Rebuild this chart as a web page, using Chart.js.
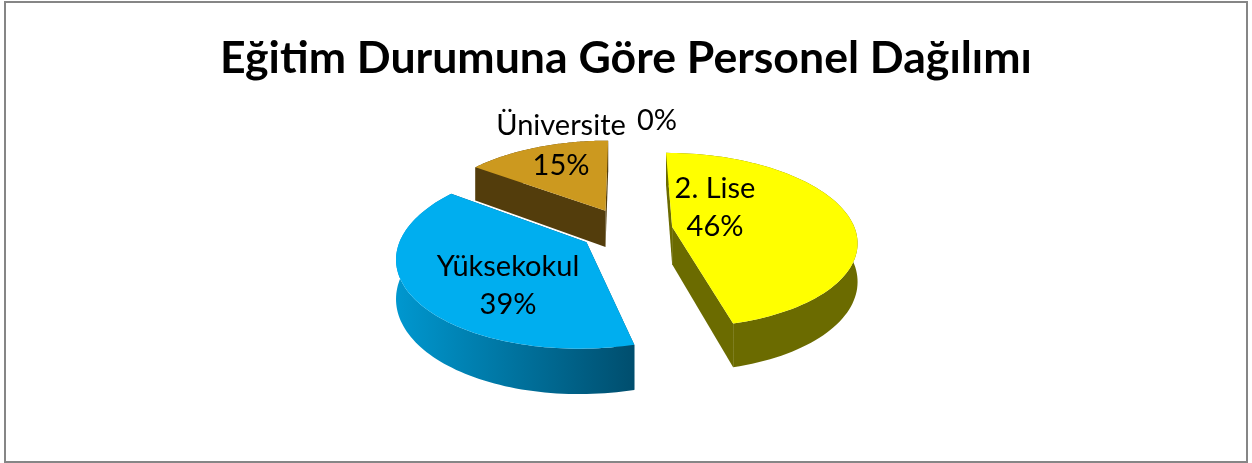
<!DOCTYPE html>
<html>
<head>
<meta charset="utf-8">
<title>Eğitim Durumuna Göre Personel Dağılımı</title>
<script src="https://cdn.jsdelivr.net/npm/chart.js@4"></script>
<style>
  html, body { margin: 0; padding: 0; background: #fff; }
  canvas { display: block; }
</style>
</head>
<body>
<canvas id="chart" width="1252" height="463"></canvas>
<script>
const chartTitle = "Eğitim Durumuna Göre Personel Dağılımı";
const categories = ["2. Lise", "Yüksekokul", "Üniversite", ""];
const percents = [46, 39, 15, 0];

const topColors = ["#FFFF00", "#00AEEF", "#CC991F", "#9BBB59"];
// left and right colour of the outer wall
const wallColors = [["#6B6B00", "#6B6B00"], ["#0098D0", "#004E6E"], ["#533D0C", "#533D0C"], ["#000", "#000"]];
const sliceOrder = [2, 0, 1]; // back to front

// label centres, [x, name y, percent y]
const labelSpots = [[715, 189, 227], [508, 267, 305], [561, 126, 166], [657, 121, 121]];

// fake 3d camera
const tilt = 0.47;
const camDist = 1200;
const depth = 37.5;
const pieRadius = 183;
const explode = 46.7;

function project(arc, X, Y, z) {
  const f = camDist / (camDist - Y);
  return { x: arc.x + X * f, y: arc.y + (Y * tilt + z) * f };
}

function poly(ctx, pts, fill) {
  ctx.beginPath();
  pts.forEach((p, i) => i ? ctx.lineTo(p.x, p.y) : ctx.moveTo(p.x, p.y));
  ctx.closePath();
  ctx.fillStyle = fill;
  ctx.fill();
}

function drawSlice(ctx, arc, index) {
  const start = arc.startAngle, end = arc.endAngle;
  if (end - start < 0.001) return;
  const mid = (start + end) / 2;
  const off = arc.options.offset;
  const ax = Math.cos(mid) * off, ay = Math.sin(mid) * off;
  const rim = [];
  const steps = 90;
  for (let i = 0; i <= steps; i++) {
    const a = start + (end - start) * i / steps;
    rim.push([ax + Math.cos(a) * arc.outerRadius, ay + Math.sin(a) * arc.outerRadius]);
  }
  const at = (p, z) => project(arc, p[0], p[1], z);

  const grad = ctx.createLinearGradient(arc.x - 232, 0, arc.x + 8, 0);
  grad.addColorStop(0, wallColors[index][0]);
  grad.addColorStop(1, wallColors[index][1]);

  // cut faces first, the outer wall goes over them
  const apex = [ax, ay];
  [rim[0], rim[steps]].forEach(p => {
    poly(ctx, [at(apex, 0), at(p, 0), at(p, depth), at(apex, depth)], wallColors[index][1]);
  });
  poly(ctx, rim.map(p => at(p, 0)).concat(rim.slice().reverse().map(p => at(p, depth))), grad);

  // top face
  poly(ctx, [at(apex, 0)].concat(rim.map(p => at(p, 0))), arc.options.backgroundColor);
}

const pie3d = {
  id: "pie3d",
  beforeDraw(chart) {
    const ctx = chart.ctx;
    ctx.save();
    ctx.strokeStyle = "#868686";
    ctx.lineWidth = 2;
    ctx.strokeRect(5, 2, 1242, 460);
    ctx.restore();
  },
  // the arcs are drawn here, flat Chart.js arcs can't do the perspective
  beforeDatasetDraw(chart, args) {
    const ctx = chart.ctx;
    const arcs = args.meta.data;
    ctx.save();
    sliceOrder.forEach(i => drawSlice(ctx, arcs[i], i));
    ctx.restore();
    return false;
  },
  afterDatasetsDraw(chart) {
    const ctx = chart.ctx;
    ctx.save();
    ctx.fillStyle = "#000";
    ctx.font = "29px Lato";
    ctx.textAlign = "center";
    ctx.textBaseline = "middle";
    categories.forEach((name, i) => {
      const spot = labelSpots[i];
      if (name) ctx.fillText(name, spot[0], spot[1]);
      ctx.fillText(percents[i] + "%", spot[0], spot[2]);
    });
    ctx.restore();
  }
};

new Chart(document.getElementById("chart"), {
  type: "pie",
  data: {
    labels: categories,
    datasets: [{
      data: percents,
      backgroundColor: topColors,
      borderWidth: 0,
      offset: explode,
      radius: pieRadius
    }]
  },
  options: {
    responsive: false,
    animation: false,
    layout: { padding: { bottom: 94 } },
    plugins: {
      legend: { display: false },
      tooltip: { enabled: false },
      title: {
        display: true,
        text: chartTitle,
        color: "#000",
        font: { family: "Lato", size: 44.6, weight: "bold" },
        padding: { top: 31.6, bottom: 5 }
      }
    }
  },
  plugins: [pie3d]
});
</script>
</body>
</html>
